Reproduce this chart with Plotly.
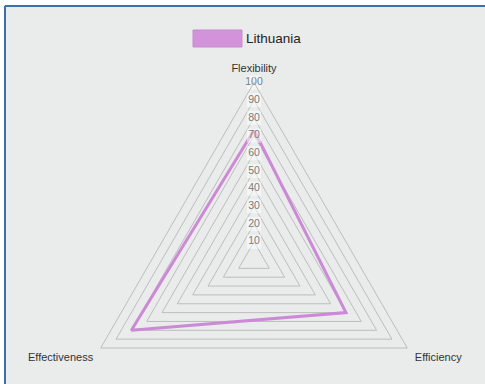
import plotly.graph_objects as go

categories = ["Flexibility", "Efficiency", "Effectiveness"]
lithuania = [73, 60, 80]
tick_values = [10, 20, 30, 40, 50, 60, 70, 80, 90, 100]
tick_labels = [str(v) for v in tick_values]

W = 485
H = 437  # taller than the window so the bottom of the polar circle falls off-screen
BG = "#e9eceb"
PURPLE = "#cc8ad6"
FONT = "Liberation Sans, Arial, sans-serif"

def px_x(x):
    return x / W

def px_y(y):
    return min(1, max(0, 1 - y / H))

fig = go.Figure()

fig.add_trace(go.Scatterpolar(
    r=lithuania + [lithuania[0]],
    theta=categories + [categories[0]],
    mode="lines",
    line=dict(color=PURPLE, width=3),
    name="Lithuania",
    showlegend=False,
    hoverinfo="r+theta",
))

# radial tick labels centred on the vertical axis
fig.add_trace(go.Scatterpolar(
    r=tick_values,
    theta=[categories[0]] * len(tick_values),
    mode="markers+text",
    text=tick_labels,
    textposition="middle center",
    textfont=dict(family=FONT, size=10.5, color="#7a7a7a"),
    marker=dict(symbol="square", size=14, color="rgba(255,255,255,0.5)", line=dict(width=0)),
    cliponaxis=False,
    showlegend=False,
    hoverinfo="skip",
))

fig.update_layout(
    width=W, height=H,
    margin=dict(l=0, r=0, t=0, b=0),
    paper_bgcolor=BG,
    showlegend=False,
    font=dict(family=FONT, size=11, color="#333333"),
    polar=dict(
        bgcolor=BG,
        gridshape="linear",
        domain=dict(x=[px_x(254 - 177), px_x(254 + 177)],
                    y=[px_y(259.5 + 177), px_y(259.5 - 177)]),
        radialaxis=dict(
            range=[0, 100], dtick=10, showticklabels=False, ticks="",
            showline=False, gridcolor="#bdbdbd", gridwidth=1, angle=90,
        ),
        angularaxis=dict(
            direction="clockwise", rotation=90, showgrid=False,
            showline=True, linecolor="#bdbdbd", linewidth=1,
            ticks="outside", ticklen=6, tickcolor=BG,
            tickfont=dict(size=11, color="#333333"),
        ),
    ),
)

# legend key drawn by hand (large swatch)
fig.add_shape(type="rect", xref="paper", yref="paper",
              x0=px_x(193), x1=px_x(242), y0=px_y(47), y1=px_y(30),
              fillcolor="#d393da", line=dict(color="#c88ad0", width=1))
fig.add_annotation(xref="paper", yref="paper", x=px_x(244), y=px_y(38.5),
                   text="Lithuania", showarrow=False, xanchor="left", yanchor="middle",
                   font=dict(size=13.5, color="#222222"))

# blue frame of the original panel
fig.add_shape(type="line", xref="paper", yref="paper",
              x0=px_x(5), x1=1.0, y0=px_y(6), y1=px_y(6),
              line=dict(color="#3d6fae", width=2))
fig.add_shape(type="line", xref="paper", yref="paper",
              x0=px_x(5), x1=px_x(5), y0=0, y1=px_y(6),
              line=dict(color="#3d6fae", width=2))
# white surround outside the frame
fig.add_shape(type="rect", xref="paper", yref="paper", layer="below",
              x0=0, x1=1, y0=px_y(5), y1=1, fillcolor="#ffffff", line=dict(width=0))
fig.add_shape(type="rect", xref="paper", yref="paper", layer="below",
              x0=0, x1=px_x(4), y0=0, y1=1, fillcolor="#ffffff", line=dict(width=0))

fig.write_html("out.html", config={"displayModeBar": False},
               post_script="document.body.style.margin='0';")
